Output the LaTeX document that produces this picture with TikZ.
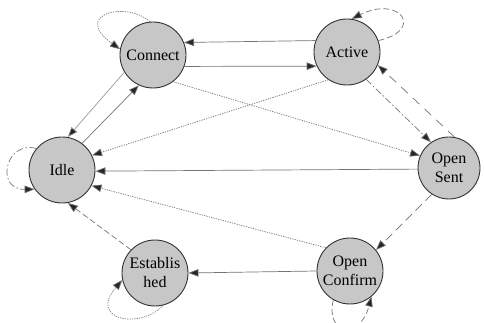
\documentclass[tikz,border=0pt]{standalone}
\usepackage{fontspec}
\setmainfont{Liberation Serif}
\usetikzlibrary{arrows.meta}

\tikzset{
  state/.style={circle, draw=black!80, line width=0.9pt, fill=black!22,
    minimum size=66pt, inner sep=0pt, align=center,
    font=\fontsize{16}{19}\selectfont},
  trans/.style={draw=black!55, line width=0.7pt,
    -{Triangle[length=10pt,width=7.5pt,fill=black!85]}},
  dotline/.style={dash pattern=on 1.2pt off 1.2pt},
  dashline/.style={dash pattern=on 6pt off 3pt},
  dashdotline/.style={dash pattern=on 7pt off 2.5pt on 1.5pt off 2.5pt},
}

\begin{document}
\begin{tikzpicture}[x=1pt, y=-1pt]
  \useasboundingbox (0,0) rectangle (485,323);
  \clip (0,0) rectangle (485,323);

  % states
  \node[state] (connect) at (153,55)  {Connect};
  \node[state] (active)  at (347,52)  {Active};
  \node[state] (idle)    at (62,170)  {Idle};
  \node[state, minimum size=62pt] (sent) at (449,168) {Open\\Sent};
  \node[state] (confirm) at (350,271) {Open\\Confirm};
  \node[state] (estab)   at (155,273) {Establis\\hed};

  % transitions between states
  \draw[trans] (active.160) -- (connect.22);
  \draw[trans] (connect.-20) -- (active.205);
  \draw[trans, dotline] (connect.-53) -- (sent.157);
  \draw[trans, dotline] (active.236) -- (idle.26);
  \draw[trans, draw=black!40] (connect.211) -- (idle.80);
  \draw[trans] (idle.53) -- (connect.245);
  \draw[trans] (sent.182) -- (idle.-2);
  \draw[trans, dotline] (confirm.136) -- (idle.-28);
  \draw[trans] (confirm.180) -- (estab.0);
  \draw[trans, dashline] (estab.136) -- (idle.-80);
  \draw[trans, dashdotline] (active.-55) -- (sent.125);
  \draw[trans, dash pattern=on 9pt off 7pt] (sent.80) -- (active.-23);
  \draw[trans, dash pattern=on 9pt off 5pt] (sent.237) -- (confirm.39);

  % self loops
  \draw[trans, dotline] (connect.95) .. controls (125,0) and (72,15) .. (connect.170);
  \draw[trans, dashline] (active.20) .. controls (425,30) and (400,-5) .. (active.82);
  \draw[trans, dashdotline] (idle.140) .. controls (5,140) and (-5,190) .. (idle.215);
  \draw[trans, dotline] (estab.-76) .. controls (140,330) and (88,320) .. (estab.192);
  \draw[trans, dashline] (confirm.240) .. controls (325,335) and (360,340) .. (confirm.-50);
\end{tikzpicture}
\end{document}
